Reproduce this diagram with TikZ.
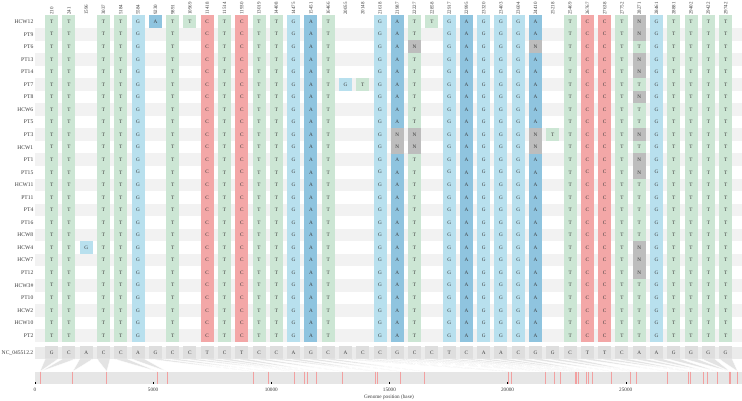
\documentclass[tikz,border=0pt]{standalone}
\usepackage{fontspec}
\setmainfont{Liberation Serif}
\definecolor{colT}{HTML}{CCE6D4}
\definecolor{colG}{HTML}{B8E0EE}
\definecolor{colA}{HTML}{8FC4DF}
\definecolor{colC}{HTML}{F3A7A7}
\definecolor{colN}{HTML}{BDBDBD}
\definecolor{stripe}{HTML}{F2F2F2}
\definecolor{refband}{HTML}{EBEBEB}
\definecolor{refcell}{HTML}{DEDEDE}
\definecolor{fancol}{HTML}{E3E3E3}
\definecolor{gbar}{HTML}{E6E6E6}
\definecolor{gtick}{HTML}{F2A0A0}
\definecolor{txt}{HTML}{3A3A3A}
\tikzset{
 cellbox/.style={minimum width=13pt, minimum height=12.8pt, inner sep=0pt, draw=none, text=txt, font=\fontsize{5.2}{6}\selectfont},
 rowlab/.style={anchor=east, inner sep=0pt, text=txt, font=\fontsize{5.6}{6}\selectfont},
 collab/.style={rotate=90, anchor=west, inner sep=0pt, text=txt, font=\fontsize{5}{6}\selectfont},
 axlab/.style={inner sep=0pt, text=txt, font=\fontsize{5.2}{6}\selectfont},
 fanpoly/.style={fill=fancol, draw=white, line width=0.3pt},
 redtick/.style={draw=gtick, line width=0.8pt},
 blacktick/.style={draw=black, line width=0.4pt}
}
\begin{document}
\begin{tikzpicture}[x=1pt,y=-1pt]
\useasboundingbox (0,0) rectangle (742,401);
% row stripes
\foreach \rr in {2,4,...,26} {
  \pgfmathsetmacro\y{21.7+(\rr-1)*12.55}
  \fill[stripe] (35,\y-6.275) rectangle (742,\y+6.275);
}
% row names
\foreach \nm [count=\rr] in {HCW12,PT9,PT6,PT13,PT14,PT7,PT8,HCW6,PT5,PT3,HCW1,PT1,PT15,HCW11,PT11,PT4,PT16,HCW8,HCW4,HCW7,PT12,HCW3\#,PT10,HCW2,HCW10,PT2} {
  \pgfmathsetmacro\y{21.7+(\rr-1)*12.55}
  \node[rowlab] (row\rr) at (33.5,\y) {\nm};
}
% reference band and genome bar
\fill[refband] (35,346.5) rectangle (742,358.5);
\node[rowlab] (refname) at (33.5,352.5) {NC\_045512.2};
\fill[gbar] (35,371.5) rectangle (742,384);
% columns: index / label / position in kb / reference base / sample base
\foreach \cc/\lab/\kb/\rb/\dflt in {
1/210/0.210/G/T, 2/241/0.241/C/T, 3/1596/1.596/A/-, 4/3037/3.037/C/T, 5/5184/5.184/C/T,
6/5584/5.584/A/G, 7/9230/9.230/G/-, 8/9891/9.891/C/T, 9/10969/10.969/C/-, 10/11418/11.418/T/C,
11/11514/11.514/C/T, 12/11930/11.930/T/C, 13/13019/13.019/C/T, 14/14408/14.408/C/T, 15/14475/14.475/A/G,
16/15451/15.451/G/A, 17/16466/16.466/C/T, 18/20055/20.055/A/-, 19/20148/20.148/C/-, 20/21618/21.618/C/G,
21/21987/21.987/G/A, 22/22227/22.227/C/T, 23/22858/22.858/C/-, 24/22917/22.917/T/G, 25/22995/22.995/C/A,
26/23320/23.320/A/G, 27/23403/23.403/A/G, 28/23604/23.604/C/G, 29/24410/24.410/G/A, 30/25218/25.218/G/-,
31/25469/25.469/C/T, 32/26767/26.767/T/C, 33/27638/27.638/T/C, 34/27752/27.752/C/T, 35/28271/28.271/A/T,
36/28461/28.461/A/G, 37/28881/28.881/G/T, 38/29402/29.402/G/T, 39/29422/29.422/G/T, 40/29742/29.742/G/T} {
  \pgfmathsetmacro\x{51.7+(\cc-1)*17.28}
  \pgfmathsetmacro\g{35+\kb*23.628}
  \node[collab] (h\cc) at (\x,15) {\lab};
  \node[cellbox, fill=refcell] (ref\cc) at (\x,352.5) {\rb};
  \fill[fanpoly] (\x-6.5,359) -- (\x+6.5,359) -- (\g,371.5) -- cycle;
  \draw[redtick] (\g,371.5) -- (\g,384);
  \if\dflt-\else
    \foreach \rr in {1,...,26} {
      \pgfmathsetmacro\y{21.7+(\rr-1)*12.55}
      \node[cellbox, fill=col\dflt] (c\cc-\rr) at (\x,\y) {\dflt};
    }
  \fi
}
% exceptions
\foreach \cc/\rr/\b in {3/19/G, 7/1/A, 9/1/T, 18/6/G, 19/6/T, 21/10/N, 21/11/N, 22/3/N, 22/10/N, 22/11/N,
  23/1/T, 29/3/N, 29/10/N, 29/11/N, 30/10/T, 35/1/N, 35/2/N, 35/4/N, 35/5/N, 35/7/N, 35/10/N,
  35/12/N, 35/13/N, 35/19/N, 35/20/N, 35/21/N} {
  \pgfmathsetmacro\x{51.7+(\cc-1)*17.28}
  \pgfmathsetmacro\y{21.7+(\rr-1)*12.55}
  \node[cellbox, fill=col\b] (x\cc-\rr) at (\x,\y) {\b};
}
% axis
\foreach \k/\v in {0/0,5/5000,10/10000,15/15000,20/20000,25/25000} {
  \pgfmathsetmacro\g{35+\k*23.628}
  \draw[blacktick] (\g,381.8) -- (\g,384);
  \node[axlab] (ax\k) at (\g,390) {\v};
}
\node[axlab] (gpos) at (389,397) {Genome position (base)};
\end{tikzpicture}
\end{document}
